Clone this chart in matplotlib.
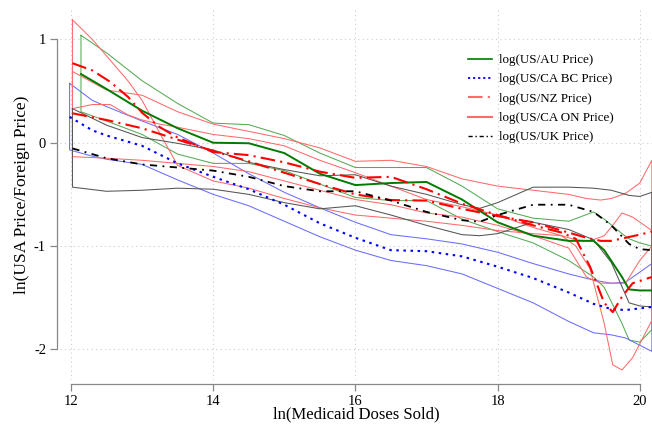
import matplotlib
matplotlib.use("Agg")
import matplotlib.pyplot as plt
from matplotlib.lines import Line2D
import numpy as np

plt.rcParams['font.family'] = ['Liberation Serif', 'DejaVu Serif']
plt.rcParams['axes.unicode_minus'] = False

# ---------------- data ----------------
# AU (green)
au_x = [12.14, 12.5, 13.0, 13.5, 14.0, 14.5, 15.0, 15.5, 16.0, 16.5, 17.0, 17.5, 18.0, 18.5, 19.0, 19.35, 19.5, 19.75, 19.85, 20.0, 20.17]
au_mid = [0.665, 0.52, 0.31, 0.14, 0.0, -0.005, -0.10, -0.30, -0.41, -0.39, -0.38, -0.55, -0.77, -0.90, -0.95, -0.95, -1.04, -1.30, -1.42, -1.43, -1.43]
au_hi = [1.04, 0.87, 0.60, 0.38, 0.19, 0.175, 0.07, -0.10, -0.24, -0.24, -0.24, -0.42, -0.64, -0.73, -0.76, -0.67, -0.74, -0.88, -0.93, -0.97, -1.00]
au_lo = [0.30, 0.21, 0.08, -0.11, -0.20, -0.20, -0.27, -0.40, -0.53, -0.56, -0.56, -0.74, -0.86, -0.97, -1.14, -1.30, -1.40, -1.75, -1.91, -1.93, -1.81]

# UK (black)
uk_x = [12.02, 12.5, 13.0, 13.5, 14.0, 14.5, 15.0, 15.5, 16.0, 16.5, 17.0, 17.5, 17.75, 18.0, 18.5, 19.0, 19.35, 19.6, 19.85, 20.0, 20.17]
uk_mid = [-0.055, -0.15, -0.21, -0.24, -0.27, -0.33, -0.42, -0.47, -0.47, -0.56, -0.67, -0.75, -0.765, -0.70, -0.60, -0.60, -0.67, -0.80, -0.98, -1.03, -1.04]
uk_hi = [0.33, 0.17, 0.05, -0.006, -0.07, -0.19, -0.26, -0.32, -0.31, -0.42, -0.50, -0.60, -0.635, -0.58, -0.43, -0.43, -0.44, -0.46, -0.51, -0.52, -0.48]
uk_lo = [-0.43, -0.47, -0.46, -0.44, -0.45, -0.50, -0.58, -0.64, -0.61, -0.70, -0.80, -0.89, -0.90, -0.88, -0.77, -0.84, -0.94, -1.16, -1.55, -1.58, -1.59]

# CA BC (blue)
bc_x = [11.98, 12.3, 12.5, 13.0, 13.5, 14.0, 14.5, 15.0, 15.5, 16.0, 16.5, 17.0, 17.5, 18.0, 18.5, 19.0, 19.35, 19.6, 19.8, 20.17]
bc_mid = [0.25, 0.12, 0.07, -0.03, -0.20, -0.33, -0.45, -0.60, -0.78, -0.92, -1.04, -1.05, -1.10, -1.20, -1.31, -1.45, -1.56, -1.61, -1.62, -1.59]
bc_hi = [0.575, 0.41, 0.35, 0.21, 0.08, -0.10, -0.30, -0.48, -0.63, -0.77, -0.89, -0.93, -0.98, -1.06, -1.17, -1.27, -1.33, -1.36, -1.35, -1.17]
bc_lo = [-0.07, -0.13, -0.16, -0.21, -0.36, -0.50, -0.61, -0.76, -0.91, -1.04, -1.14, -1.19, -1.27, -1.41, -1.55, -1.73, -1.84, -1.86, -1.89, -2.02]

# NZ (red, dash-dot centre)
nz_x = [12.02, 12.3, 12.55, 12.8, 13.0, 13.25, 13.5, 14.0, 14.5, 15.0, 15.5, 16.0, 16.5, 17.0, 17.5, 18.0, 18.5, 18.9, 19.1, 19.3, 19.5, 19.62, 19.75, 19.9, 20.17]
nz_mid = [0.77, 0.70, 0.59, 0.445, 0.29, 0.15, 0.05, -0.09, -0.12, -0.19, -0.28, -0.34, -0.33, -0.45, -0.59, -0.70, -0.80, -0.87, -0.93, -1.20, -1.55, -1.64, -1.49, -1.36, -1.30]
nz_hi = [1.19, 1.00, 0.80, 0.60, 0.41, 0.09, -0.22, -0.37, -0.44, -0.54, -0.63, -0.70, -0.73, -0.76, -0.80, -0.85, -0.88, -0.90, -0.94, -0.95, -0.90, -0.80, -0.68, -0.72, -0.85]
nz_lo = [0.33, 0.37, 0.37, 0.27, 0.22, 0.18, 0.15, 0.08, 0.04, -0.03, -0.17, -0.29, -0.42, -0.55, -0.62, -0.70, -0.82, -0.90, -1.00, -1.22, -1.75, -2.15, -2.20, -2.08, -1.72]

# CA ON (red)
on_x = [12.02, 12.5, 13.0, 13.5, 14.0, 14.5, 15.0, 15.5, 16.0, 16.5, 17.0, 17.5, 18.0, 18.5, 19.0, 19.25, 19.45, 19.6, 19.8, 20.0, 20.17]
on_mid = [0.285, 0.22, 0.14, 0.03, -0.08, -0.18, -0.29, -0.40, -0.50, -0.555, -0.56, -0.64, -0.71, -0.77, -0.87, -0.92, -0.95, -0.95, -0.92, -0.89, -0.86]
on_hi = [0.69, 0.51, 0.46, 0.30, 0.18, 0.11, 0.04, -0.05, -0.18, -0.17, -0.23, -0.35, -0.42, -0.46, -0.50, -0.54, -0.555, -0.54, -0.49, -0.39, -0.17]
on_lo = [-0.135, -0.15, -0.17, -0.20, -0.23, -0.28, -0.37, -0.46, -0.55, -0.60, -0.68, -0.72, -0.80, -0.90, -1.02, -1.30, -1.36, -1.36, -1.36, -1.14, -1.00]

legend_labels = ["log(US/AU Price)", "log(US/CA BC Price)", "log(US/NZ Price)",
                 "log(US/CA ON Price)", "log(US/UK Price)"]
x_ticks = [12, 14, 16, 18, 20]
y_ticks = [-2, -1, 0, 1]

# ---------------- styles ----------------
GREEN = "#007A00"
GREEN_B = "#55AA55"
BLUE = "#0000FF"
BLUE_B = "#6C6CFF"
RED = "#FF0000"
RED_B = "#FF6A6A"
GRAY_B = "#555555"
DASHDOT = (0, (7, 2.5, 1, 2.5))

fig = plt.figure(figsize=(6.52, 4.25), dpi=100)
ax = fig.add_axes([60 / 652, 45 / 425, 592 / 652, 370 / 425])
ax.set_xlim(11.845, 20.172)
ax.set_ylim(-2.297, 1.285)


def band(x, hi, lo, color):
    xs = list(x) + list(x[::-1]) + [x[0]]
    ys = list(hi) + list(lo[::-1]) + [hi[0]]
    ax.plot(xs, ys, color=color, lw=0.75, solid_joinstyle='miter', zorder=2)


band(au_x, au_hi, au_lo, GREEN_B)
band(bc_x, bc_hi, bc_lo, BLUE_B)
band(nz_x, nz_hi, nz_lo, RED_B)
band(on_x, on_hi, on_lo, RED_B)
band(uk_x, uk_hi, uk_lo, GRAY_B)

ax.plot(au_x, au_mid, color=GREEN, lw=1.4, zorder=3)
ax.plot(bc_x, bc_mid, color=BLUE, lw=1.5, linestyle=(0, (1.2, 2.2)), zorder=3)
ax.plot(nz_x, nz_mid, color=RED, lw=1.5, linestyle=DASHDOT, zorder=3)
ax.plot(on_x, on_mid, color=RED, lw=1.5, linestyle=DASHDOT, zorder=3)
ax.plot(uk_x, uk_mid, color="black", lw=1.3, linestyle=(0, (4, 3, 1, 3)), zorder=3)

# grid
ax.set_xticks(x_ticks)
ax.set_yticks(y_ticks)
ax.grid(True, color="#CCCCCC", linestyle=(0, (1, 3)), lw=0.8, zorder=0)

for s in ["top", "right"]:
    ax.spines[s].set_visible(False)
ax.spines["left"].set_position(("outward", 2))
ax.spines["bottom"].set_position(("outward", 3))
ax.spines["left"].set_bounds(-2, 1)
ax.spines["bottom"].set_bounds(12, 20)
for s in ["left", "bottom"]:
    ax.spines[s].set_color("#888888")
    ax.spines[s].set_linewidth(0.9)
ax.tick_params(axis="both", color="#888888", length=5, width=0.9, labelsize=10.5, pad=3)

ax.set_xlabel("ln(Medicaid Doses Sold)", fontsize=12, labelpad=-1)
ax.set_ylabel("ln(USA Price/Foreign Price)", fontsize=12.5, labelpad=3)

handles = [
    Line2D([], [], color=GREEN, lw=1.2),
    Line2D([], [], color=BLUE, lw=1.3, linestyle=(0, (1.2, 1.6))),
    Line2D([], [], color=RED_B, lw=1.5, linestyle=DASHDOT),
    Line2D([], [], color=RED_B, lw=1.5),
    Line2D([], [], color="black", lw=1.0, linestyle=(0, (3, 2, 1, 2))),
]
leg = fig.legend(handles, legend_labels, loc="upper left",
                 bbox_to_anchor=(468 / 652, 1 - 54 / 425), frameon=False,
                 fontsize=9.4, handlelength=1.8, handletextpad=0.6,
                 labelspacing=0.55, borderpad=0, borderaxespad=0)

fig.savefig("out.png", dpi=100)
